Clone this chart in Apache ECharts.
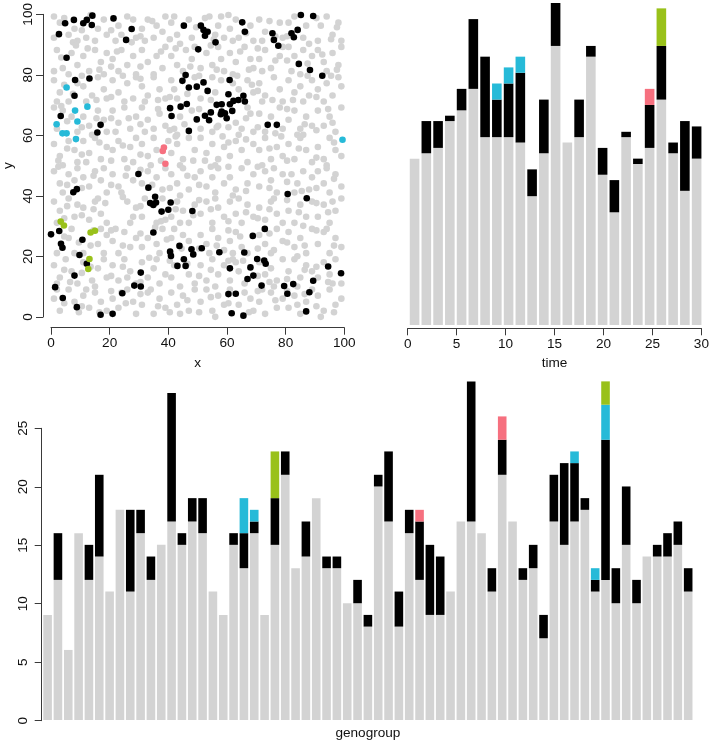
<!DOCTYPE html>
<html style="height: 100%">
<head>
  <meta charset="utf-8">
  <title>demo</title>
</head>
<body style="height: 100%; margin: 0; background: #fff">
<div id="container" style="width: 713px; height: 741px"></div>
<script type="text/javascript" src="https://cdn.jsdelivr.net/npm/echarts@6/dist/echarts.min.js"></script>
<script type="text/javascript">
  // ---- scatter (x, y) ----
  var grayPts = [
    [1,99],[3,97],[6,93],[8,95],[1,92],[9,91],[12,92],[16,95],[18,98],[15,91],[19,93],
    [23,96],[24,93],[28,98],[22,91],[29,92],[26,99],[31,95],[33,98],[36,96],[35,92],[38,94],[39,99],[32,91],
    [41,97],[43,93],[47,98],[48,92],[44,90],[42,99],[54,99],[57,96],[59,92],[56,93],[58,99],
    [61,95],[63,98],[64,92],[68,96],[69,91],[62,91],[71,98],[73,94],[78,97],[72,91],[79,92],
    [81,97],[87,96],[86,92],[88,90],[83,99],[92,96],[94,99],[96,93],[98,97],[91,91],[99,91],
    [2,88],[4,82],[7,87],[9,83],[1,81],[6,80],[11,86],[13,81],[15,88],[17,84],[19,87],[18,80],
    [21,85],[24,88],[26,83],[28,86],[23,81],[29,80],[31,88],[33,84],[36,86],[38,82],[35,80],[39,89],
    [41,86],[43,83],[46,88],[48,85],[45,81],[49,89],[53,87],[55,83],[57,89],[58,85],[51,82],[59,81],
    [61,87],[63,84],[66,89],[68,85],[62,80],[69,82],[71,85],[73,88],[75,82],[78,86],[72,81],[79,89],
    [81,89],[83,86],[86,88],[89,86],[82,81],[85,80],[91,88],[93,84],[96,87],[98,83],[94,81],[99,89],
    [1,78],[3,74],[6,71],[9,77],[2,71],[11,76],[14,73],[16,79],[18,75],[12,71],[19,72],
    [21,78],[23,74],[26,77],[28,72],[25,71],[29,79],[31,76],[33,73],[35,79],[37,75],[39,72],[32,71],
    [41,78],[43,72],[42,75],[49,79],[51,72],[56,74],[58,78],[55,79],[62,77],[64,75],[67,78],[69,74],
    [71,77],[73,73],[76,79],[78,75],[72,71],[79,71],[81,78],[83,74],[85,76],[88,73],[86,71],[89,78],
    [91,75],[94,77],[96,73],[99,76],[93,71],[98,79],
    [1,69],[4,68],[7,66],[2,62],[9,61],[11,66],[13,63],[16,68],[18,65],[19,61],[14,60],
    [21,68],[23,64],[25,69],[27,62],[29,66],[22,61],[31,69],[33,65],[35,62],[37,67],[39,63],[32,61],
    [42,62],[44,66],[48,68],[43,60],[51,62],[55,61],[57,63],[63,64],[65,62],[68,67],[69,61],[67,69],
    [71,67],[73,61],[75,66],[78,69],[79,62],[81,65],[83,68],[85,62],[87,66],[89,63],[84,60],
    [91,68],[93,63],[95,66],[97,61],[99,69],[96,64],
    [1,57],[3,53],[6,58],[8,55],[9,51],[4,50],[11,58],[13,54],[15,59],[17,52],[19,56],[12,51],
    [21,55],[23,58],[25,52],[27,56],[29,59],[28,51],[31,57],[33,53],[35,59],[36,55],[34,50],[40,58],
    [41,54],[43,57],[45,52],[47,59],[49,55],[44,50],[51,59],[53,54],[55,57],[57,52],[59,56],[56,50],
    [61,53],[63,58],[65,55],[67,51],[69,57],[64,60],[71,55],[73,59],[75,52],[77,56],[79,53],[72,50],
    [81,57],[83,52],[85,59],[87,55],[89,51],[86,60],[91,56],[93,52],[95,59],[97,55],[99,53],[94,50],
    [1,48],[3,44],[6,47],[8,45],[9,49],[4,41],[11,46],[13,43],[15,48],[17,45],[19,41],[18,49],
    [21,47],[23,43],[26,49],[28,45],[24,41],[31,44],[33,48],[36,46],[38,42],[39,49],
    [41,47],[43,44],[45,49],[47,42],[49,46],[44,40],[51,48],[53,43],[55,46],[57,49],[59,44],[56,41],
    [61,46],[63,42],[65,49],[67,44],[69,47],[62,40],[71,43],[73,48],[75,45],[77,41],[79,47],[76,49],
    [82,47],[84,44],[86,48],[88,42],[89,46],[83,41],[91,48],[93,44],[95,41],[97,47],[99,43],[94,49],
    [1,38],[3,35],[6,39],[8,33],[9,37],[2,31],[11,36],[13,32],[15,38],[17,34],[19,31],[16,39],
    [26,38],[28,33],[29,36],[27,31],[31,33],[32,39],[36,31],[38,39],[39,32],
    [41,33],[43,38],[45,35],[47,31],[49,37],[44,31],[51,34],[53,38],[55,31],[57,36],[59,33],[56,39],
    [61,38],[63,34],[65,31],[67,37],[69,33],[64,39],[71,36],[73,32],[75,38],[77,34],[79,31],[76,39],
    [81,35],[83,31],[85,37],[87,33],[89,38],[86,30],[91,33],[93,37],[95,31],[97,35],[99,39],[96,38],
    [6,26],[8,21],[2,21],[7,29],[11,21],[16,24],[18,21],[19,27],[17,29],
    [21,25],[23,21],[25,28],[27,23],[29,26],[22,29],[31,23],[33,26],[36,24],[38,29],[37,21],
    [41,26],[45,27],[47,25],[42,29],[51,27],[53,24],[55,29],[57,26],[59,22],[54,21],
    [61,25],[63,28],[65,23],[67,21],[62,21],[71,27],[73,24],[75,21],[77,29],[79,25],[76,22],
    [81,28],[83,23],[85,26],[87,21],[89,29],[84,20],[91,24],[93,28],[95,21],[97,26],[99,23],[94,29],
    [1,17],[3,13],[5,19],[7,15],[9,11],[2,11],[11,18],[14,12],[16,16],[18,19],[19,13],[15,10],
    [21,17],[23,12],[25,19],[27,15],[29,11],[26,13],[31,18],[33,13],[35,16],[37,11],[39,14],[36,19],
    [41,13],[42,17],[47,14],[49,11],[44,10],[51,17],[53,12],[55,19],[57,14],[59,17],[56,10],
    [61,12],[63,18],[64,15],[66,11],[62,19],[71,18],[73,14],[75,16],[77,12],[79,19],[76,10],
    [81,15],[83,19],[85,13],[87,17],[89,15],[84,10],[91,13],[93,18],[95,14],[97,19],[99,11],[96,11],
    [1,6],[3,2],[6,9],[8,5],[2,9],[11,7],[13,3],[15,8],[17,5],[19,2],[12,9],
    [21,6],[23,3],[26,9],[28,5],[29,1],[24,8],[31,4],[33,8],[35,1],[37,6],[39,3],[34,9],
    [41,8],[43,4],[45,7],[47,2],[49,9],[44,1],[51,5],[53,9],[55,2],[57,7],[59,4],[56,0],
    [61,9],[64,4],[68,6],[69,2],[66,8],[71,5],[73,1],[75,8],[77,3],[79,6],[72,9],
    [81,3],[83,7],[85,1],[87,5],[89,9],[84,4],[91,7],[93,2],[95,9],[97,4],[99,6],[92,0],
    [4.5,98.5],[7.5,90.5],[13.5,99.5],[10.5,94.5],[20.5,94.5],[27.5,90.5],[34.5,97.5],[30.5,92.5],[40.5,91.5],[49.5,95.5],
    [55.5,91.5],[52.5,98.5],[66.5,93.5],[60.5,99.5],[74.5,97.5],[76.5,92.5],[80.5,92.5],[90.5,98.5],[95.5,91.5],[97.5,95.5],
    [3.5,85.5],[8.5,89.5],[12.5,88.5],[16.5,81.5],[20.5,82.5],[22.5,87.5],[30.5,82.5],[37.5,87.5],[42.5,88.5],[47.5,82.5],
    [54.5,89.5],[56.5,81.5],[64.5,87.5],[67.5,81.5],[70.5,88.5],[76.5,84.5],[80.5,84.5],[87.5,83.5],[92.5,86.5],[97.5,81.5],
    [4.5,76.5],[7.5,73.5],[10.5,79.5],[15.5,71.5],[20.5,72.5],[24.5,79.5],[30.5,78.5],[36.5,71.5],[40.5,72.5],[46.5,73.5],
    [50.5,79.5],[54.5,71.5],[63.5,79.5],[68.5,76.5],[70.5,74.5],[75.5,71.5],[82.5,71.5],[87.5,79.5],[90.5,72.5],[95.5,79.5],
    [5.5,64.5],[3.5,69.5],[10.5,62.5],[15.5,65.5],[20.5,65.5],[26.5,65.5],[30.5,63.5],[36.5,68.5],[40.5,61.5],[45.5,63.5],
    [50.5,68.5],[56.5,62.5],[60.5,62.5],[66.5,65.5],[70.5,62.5],[76.5,60.5],[80.5,68.5],[86.5,63.5],[90.5,61.5],[94.5,68.5],
    [5.5,55.5],[2.5,51.5],[10.5,53.5],[16.5,57.5],[20.5,51.5],[24.5,56.5],[30.5,53.5],[37.5,51.5],[42.5,59.5],[48.5,51.5],
    [52.5,51.5],[58.5,59.5],[60.5,57.5],[66.5,58.5],[74.5,55.5],[78.5,59.5],[80.5,51.5],[84.5,55.5],[90.5,52.5],[96.5,57.5],
    [5.5,43.5],[2.5,49.5],[10.5,42.5],[14.5,46.5],[20.5,43.5],[25.5,46.5],[30.5,48.5],[34.5,43.5],[40.5,42.5],[46.5,46.5],
    [50.5,43.5],[54.5,49.5],[60.5,49.5],[66.5,41.5],[70.5,49.5],[74.5,42.5],[80.5,44.5],[85.5,41.5],[90.5,42.5],[96.5,45.5],
    [4.5,32.5],[5.5,36.5],[10.5,33.5],[14.5,35.5],[18.5,37.5],[24.5,39.5],[30.5,36.5],[37.5,31.5],[42.5,35.5],[48.5,33.5],
    [50.5,38.5],[54.5,35.5],[60.5,31.5],[66.5,34.5],[70.5,32.5],[74.5,35.5],[80.5,38.5],[84.5,34.5],[90.5,37.5],[94.5,34.5],
    [4.5,26.5],[9.5,24.5],[13.5,23.5],[14.5,28.5],[20.5,28.5],[24.5,23.5],[30.5,27.5],[35.5,29.5],[39.5,25.5],[44.5,22.5],
    [50.5,22.5],[56.5,23.5],[60.5,28.5],[64.5,26.5],[70.5,22.5],[74.5,27.5],[80.5,24.5],[86.5,23.5],[90.5,28.5],[96.5,23.5],
    [4.5,15.5],[6.5,11.5],[10.5,14.5],[13.5,16.5],[20.5,13.5],[24.5,16.5],[30.5,11.5],[33.5,19.5],[40.5,18.5],[46.5,17.5],
    [50.5,13.5],[54.5,15.5],[60.5,18.5],[65.5,18.5],[70.5,13.5],[74.5,11.5],[80.5,12.5],[86.5,15.5],[90.5,16.5],[94.5,11.5],
    [4.5,4.5],[9.5,1.5],[10.5,3.5],[16.5,1.5],[20.5,8.5],[25.5,4.5],[30.5,7.5],[36.5,3.5],[40.5,1.5],[46.5,5.5],
    [50.5,1.5],[54.5,6.5],[60.5,4.5],[67.5,1.5],[70.5,8.5],[76.5,5.5],[80.5,8.5],[86.5,7.5],[90.5,3.5],[96.5,1.5]
  ];
  var blackPts = [
    [4.8,96.8],[7.8,97.9],[11.0,96.8],[12.2,97.9],[14.1,99.3],[13.9,96.2],[21.3,98.4],[2.7,93.2],
    [27.5,94.9],[25.6,91.3],[5.3,85.4],[8.2,78.1],[13.1,78.6],[8.0,72.9],[3.3,66.2],[16.9,63.3],
    [15.8,60.8],[45.3,96.0],[45.9,79.7],[44.8,77.8],[47.0,75.6],[40.6,68.8],[41.1,66.2],[44.2,69.3],
    [46.3,70.2],[47.0,61.3],
    [51.1,96.0],[52.0,94.6],[53.4,94.0],[52.5,92.7],[56.1,90.5],[50.2,88.2],[65.2,97.1],[66.1,94.0],
    [75.5,93.5],[76.0,91.3],[77.5,89.4],[82.0,93.5],[82.8,92.2],[84.1,94.6],[85.2,99.5],[89.4,99.2],
    [84.5,83.4],[88.3,81.4],[92.5,79.5],[60.9,78.1],[52.0,77.3],[49.7,75.9],[53.4,74.5],[60.5,73.4],
    [65.6,72.9],[66.1,71.0],[63.9,71.5],[62.2,71.2],[61.0,70.1],[58.2,70.1],[56.5,69.9],[58.2,67.7],
    [57.9,66.8],[59.3,67.1],[59.9,65.5],[61.8,67.9],[54.5,67.4],[52.5,66.3],[53.9,64.8],[49.7,65.1],
    [73.9,63.3],[77.0,63.3],
    [29.8,47.1],[7.6,41.1],[8.8,42.1],[33.2,42.6],[35.5,39.6],[33.8,37.5],[34.9,36.9],[35.8,37.7],
    [37.7,34.7],[40.0,35.3],[40.8,37.7],[48.2,34.9],[0.0,27.2],[2.8,28.3],[10.7,25.4],[3.4,24.1],
    [3.9,22.8],[34.9,27.8],[9.7,20.4],[12.2,17.5],[8.0,13.6],[1.4,9.8],[4.0,6.2],[8.8,3.2],
    [16.9,0.7],[21.0,1.0],[24.3,7.8],[28.4,10.3],[30.6,10.0],[30.6,14.6],[40.6,21.5],[40.9,20.1],
    [43.8,23.4],[45.3,19.0],[45.9,16.8],[43.1,16.8],[47.9,22.3],[48.5,20.6],
    [80.7,40.5],[87.2,39.1],[72.9,29.0],[68.8,26.7],[51.4,22.6],[57.4,21.3],[65.9,21.2],[70.3,19.1],
    [72.7,18.6],[73.2,17.5],[68.0,16.3],[61.0,16.0],[69.0,13.6],[67.0,12.5],[71.8,10.3],[79.5,10.2],
    [82.6,10.8],[80.6,7.6],[88.1,8.1],[89.4,11.9],[94.5,16.6],[98.9,14.4],[60.5,7.5],[63.0,7.6],
    [61.6,1.2],[65.6,0.4],[87.0,1.8]
  ];
  var cyanPts = [[5.3,75.6],[12.4,69.3],[8.2,68.0],[9.0,64.4],[1.9,63.5],[3.9,60.5],[5.3,60.5],[8.5,58.6],[99.4,58.4]];
  var pinkPts = [[38.5,55.8],[38.1,54.7],[39.0,50.5]];
  var greenPts = [[3.3,31.4],[4.4,30.1],[13.5,27.8],[15.0,28.4],[13.1,19.1],[12.7,15.8]];

  // ---- cases by time (25 bars, segment sizes) ----
  var timeGray  = [31,32,33,38,40,44,35,35,35,34,24,32,52,34,35,50,28,21,35,30,33,42,32,25,31];
  var timeBlack = [0,6,5,1,4,13,15,7,10,13,5,10,8,0,7,2,5,6,1,1,8,10,2,13,6];
  var timeCyan  = [0,0,0,0,0,0,0,3,3,3,0,0,0,0,0,0,0,0,0,0,0,0,0,0,0];
  var timePink  = [0,0,0,0,0,0,0,0,0,0,0,0,0,0,0,0,0,0,0,0,3,0,0,0,0];
  var timeGreen = [0,0,0,0,0,0,0,0,0,0,0,0,0,0,0,0,0,0,0,0,0,7,0,0,0];
  var timeTicks = [0, 30, 5];

  // ---- cases by genogroup (63 bars, segment sizes) ----
  var genoGray  = [9,12,6,16,12,14,11,18,11,16,12,15,17,15,17,16,11,9,15,13,16,9,15,21,13,14,19,13,13,10,
                   10,8,20,17,8,16,12,9,9,11,17,17,16,11,21,17,12,13,7,17,15,17,18,11,12,10,15,10,14,14,14,15,11];
  var genoBlack = [0,4,0,0,3,7,0,0,7,2,2,0,11,1,2,3,0,0,1,3,1,0,4,2,0,3,0,1,1,0,
                   2,1,1,6,3,2,5,6,5,0,0,12,0,2,3,0,1,2,2,4,7,5,1,1,12,3,5,2,0,1,2,2,2];
  var genoCyan  = [0,0,0,0,0,0,0,0,0,0,0,0,0,0,0,0,0,0,0,3,1,0,0,0,0,0,0,0,0,0,
                   0,0,0,0,0,0,0,0,0,0,0,0,0,0,0,0,0,0,0,0,0,1,0,1,3,0,0,0,0,0,0,0,0];
  var genoPink  = [0,0,0,0,0,0,0,0,0,0,0,0,0,0,0,0,0,0,0,0,0,0,0,0,0,0,0,0,0,0,
                   0,0,0,0,0,0,1,0,0,0,0,0,0,0,2,0,0,0,0,0,0,0,0,0,0,0,0,0,0,0,0,0,0];
  var genoGreen = [0,0,0,0,0,0,0,0,0,0,0,0,0,0,0,0,0,0,0,0,0,0,4,0,0,0,0,0,0,0,
                   0,0,0,0,0,0,0,0,0,0,0,0,0,0,0,0,0,0,0,0,0,0,0,0,2,0,0,0,0,0,0,0,0];

  var GRAY = '#D3D3D3', BLACK = '#000000', CYAN = '#26BAD8', PINK = '#F6707F', GREEN = '#99C11A';
  var FONT = 'Liberation Sans, Arial, Helvetica, sans-serif';
  var AX = '#3a3a3a', TXT = '#111';
  var FS = 13.6;

  var dom = document.getElementById('container');
  var myChart = echarts.init(dom, null, { renderer: 'canvas' });

  function idx(n) { var a = []; for (var i = 1; i <= n; i++) a.push(String(i)); return a; }

  function shownAxis(extra) {
    var base = {
      type: 'value',
      axisLine: { show: true, lineStyle: { color: AX, width: 1 } },
      axisTick: { show: true, length: 7, lineStyle: { color: AX, width: 1 } },
      axisLabel: { color: TXT, fontFamily: FONT, fontSize: FS, margin: 9 },
      splitLine: { show: false },
      nameTextStyle: { color: TXT, fontFamily: FONT, fontSize: FS },
      nameLocation: 'middle'
    };
    for (var k in extra) base[k] = extra[k];
    return base;
  }

  function hidden(extra) {
    var base = { show: false, splitLine: { show: false } };
    for (var k in extra) base[k] = extra[k];
    return base;
  }

  function pts(name, data, color, z) {
    return {
      type: 'scatter', name: name, xAxisIndex: 0, yAxisIndex: 0,
      data: data, symbolSize: 6.6, z: z, silent: true,
      itemStyle: { color: color, opacity: 1 }
    };
  }

  function bars(name, data, color, axis, stack, w) {
    return {
      type: 'bar', name: name, xAxisIndex: axis, yAxisIndex: axis, stack: stack,
      data: data, barWidth: w, silent: true,
      itemStyle: { color: color, borderWidth: 0 }
    };
  }

  var option = {
    animation: false,
    backgroundColor: '#fff',
    grid: [
      { left: 39.3, top: 1.4, width: 316.7, height: 327.6 },   // scatter plot area
      { left: 51, top: 300, width: 293.3, height: 27.7 },       // scatter x axis
      { left: 40, top: 13.5, width: 300, height: 303.5 },       // scatter y axis
      { left: 408.7, top: 3, width: 293.8, height: 322 },       // time bars
      { left: 407.7, top: 300, width: 293.7, height: 28.3 },    // time axis
      { left: 42.44, top: 369.7, width: 650.9, height: 351 },   // genogroup bars
      { left: 41.7, top: 428.3, width: 600, height: 292.4 }     // genogroup y axis
    ],
    xAxis: [
      hidden({ gridIndex: 0, type: 'value', min: -4, max: 104 }),
      shownAxis({ gridIndex: 1, min: 0, max: 100, interval: 20, name: 'x', nameGap: 29 }),
      hidden({ gridIndex: 2, type: 'value', min: 0, max: 1 }),
      hidden({ gridIndex: 3, type: 'category', data: idx(timeGray.length) }),
      shownAxis({ gridIndex: 4, min: timeTicks[0], max: timeTicks[1], interval: timeTicks[2], name: 'time', nameGap: 28 }),
      {
        gridIndex: 5, type: 'category', data: idx(genoGray.length),
        axisLine: { show: false }, axisTick: { show: false }, axisLabel: { show: false },
        splitLine: { show: false },
        name: 'genogroup', nameLocation: 'middle', nameGap: 6,
        nameTextStyle: { color: TXT, fontFamily: FONT, fontSize: FS }
      },
      hidden({ gridIndex: 6, type: 'value', min: 0, max: 1 })
    ],
    yAxis: [
      hidden({ gridIndex: 0, type: 'value', min: -4, max: 104 }),
      hidden({ gridIndex: 1, type: 'value', min: 0, max: 1 }),
      shownAxis({ gridIndex: 2, min: 0, max: 100, interval: 20, name: 'y', nameGap: 28,
        axisLabel: { color: TXT, fontFamily: FONT, fontSize: FS, margin: 8, rotate: 90 } }),
      hidden({ gridIndex: 3, type: 'value', min: 0, max: 60 }),
      hidden({ gridIndex: 4, type: 'value', min: 0, max: 1 }),
      hidden({ gridIndex: 5, type: 'value', min: 0, max: 30 }),
      shownAxis({ gridIndex: 6, min: 0, max: 25, interval: 5,
        axisLabel: { color: TXT, fontFamily: FONT, fontSize: FS, margin: 11, rotate: 90 } })
    ],
    series: [
      pts('other', grayPts, GRAY, 1),
      pts('cluster', blackPts, BLACK, 2),
      pts('cyan', cyanPts, CYAN, 3),
      pts('pink', pinkPts, PINK, 3),
      pts('green', greenPts, GREEN, 3),

      bars('gray', timeGray, GRAY, 3, 'time', 9.6),
      bars('black', timeBlack, BLACK, 3, 'time', 9.6),
      bars('cyan', timeCyan, CYAN, 3, 'time', 9.6),
      bars('pink', timePink, PINK, 3, 'time', 9.6),
      bars('green', timeGreen, GREEN, 3, 'time', 9.6),

      bars('gray', genoGray, GRAY, 5, 'geno', 8.6),
      bars('black', genoBlack, BLACK, 5, 'geno', 8.6),
      bars('cyan', genoCyan, CYAN, 5, 'geno', 8.6),
      bars('pink', genoPink, PINK, 5, 'geno', 8.6),
      bars('green', genoGreen, GREEN, 5, 'geno', 8.6)
    ]
  };

  myChart.setOption(option);
</script>
</body>
</html>
